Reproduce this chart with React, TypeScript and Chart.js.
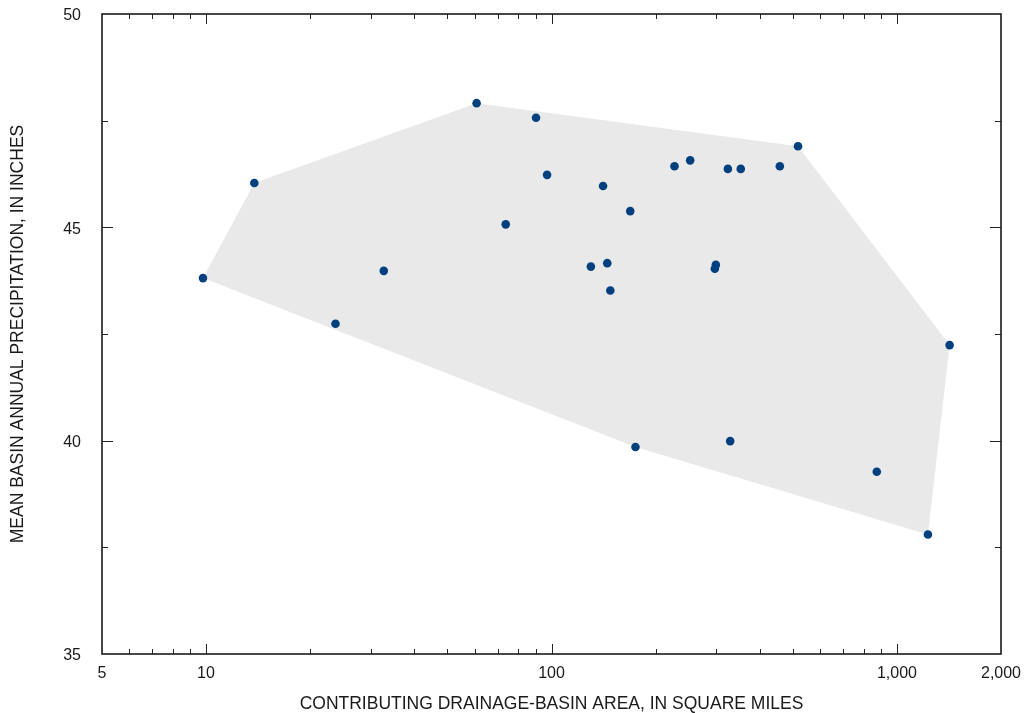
import React, { useEffect, useRef } from 'react';
import { Chart, registerables } from 'chart.js';

Chart.register(...registerables);

// Contributing drainage-basin area (square miles) and mean basin annual precipitation (inches)
const areaSqMi = [9.8, 13.8, 23.7, 32.7, 60.7, 90.2, 97.1, 73.7, 141, 169, 130, 145, 148, 227, 252, 324, 353, 458, 517, 299, 297, 175, 329, 1420, 874, 1229];
const precipIn = [43.81, 46.04, 42.74, 43.98, 47.91, 47.57, 46.23, 45.07, 45.97, 45.38, 44.08, 44.16, 43.52, 46.43, 46.57, 46.37, 46.37, 46.43, 46.9, 44.12, 44.03, 39.85, 39.99, 42.24, 39.27, 37.8];

// Envelope (convex hull) of the data
const hullArea = [9.8, 13.8, 60.7, 517, 1420, 1229, 175, 9.8];
const hullPrecip = [43.81, 46.04, 47.91, 46.9, 42.24, 37.8, 39.85, 43.81];

const xLabelTicks = [5, 10, 100, 1000, 2000];
const xMajorMarks = [10, 100, 1000];
const xMinorMarks = [6, 7, 8, 9, 20, 30, 40, 50, 60, 70, 80, 90, 200, 300, 400, 500, 600, 700, 800, 900];
const yLabelTicks = [35, 40, 45, 50];
const yMajorMarks = [40, 45];
const yMinorMarks = [37.5, 42.5, 47.5];

const xTitle = 'CONTRIBUTING DRAINAGE-BASIN AREA, IN SQUARE MILES';
const yTitle = 'MEAN BASIN ANNUAL PRECIPITATION, IN INCHES';

const FONT = "'Liberation Sans', Arial, Helvetica, sans-serif";
const TEXT_COLOR = '#1a1a1a';

const frameTicksPlugin = {
  id: 'frameTicks',
  afterDatasetsDraw(chart: any) {
    const { ctx, chartArea } = chart;
    const { left, right, top, bottom } = chartArea;
    const xs = chart.scales.x;
    const ys = chart.scales.y;
    ctx.save();
    ctx.strokeStyle = '#222';
    ctx.lineWidth = 1;
    ctx.beginPath();
    const vMark = (v: number, len: number) => {
      const px = Math.round(xs.getPixelForValue(v)) + 0.5;
      ctx.moveTo(px, bottom);
      ctx.lineTo(px, bottom - len);
      ctx.moveTo(px, top);
      ctx.lineTo(px, top + len);
    };
    const hMark = (v: number, len: number) => {
      const py = Math.round(ys.getPixelForValue(v)) + 0.5;
      ctx.moveTo(left, py);
      ctx.lineTo(left + len, py);
      ctx.moveTo(right, py);
      ctx.lineTo(right - len, py);
    };
    xMajorMarks.forEach((v) => vMark(v, 10));
    xMinorMarks.forEach((v) => vMark(v, 5));
    yMajorMarks.forEach((v) => hMark(v, 11));
    yMinorMarks.forEach((v) => hMark(v, 6));
    ctx.stroke();
    ctx.lineWidth = 1.6;
    ctx.strokeStyle = '#1a1a1a';
    ctx.strokeRect(left, top, right - left, bottom - top);
    ctx.restore();
  },
};

export default function App() {
  const canvasRef = useRef<HTMLCanvasElement | null>(null);

  useEffect(() => {
    if (!canvasRef.current) return;
    const points = areaSqMi.map((a, i) => ({ x: a, y: precipIn[i] }));
    const hull = hullArea.map((a, i) => ({ x: a, y: hullPrecip[i] }));
    const chart = new Chart(canvasRef.current, {
      type: 'scatter',
      data: {
        datasets: [
          {
            label: 'Stations',
            data: points,
            backgroundColor: '#00407f',
            borderWidth: 0,
            pointRadius: 4.3,
            pointBorderWidth: 0,
            showLine: false,
          },
          {
            label: 'Envelope',
            data: hull,
            showLine: true,
            fill: 'shape',
            backgroundColor: '#e9e9e9',
            borderColor: 'rgba(0,0,0,0)',
            borderWidth: 0,
            pointRadius: 0,
            tension: 0,
          } as any,
        ],
      },
      options: {
        animation: false,
        responsive: true,
        maintainAspectRatio: false,
        layout: { padding: { top: 14, right: 25, left: 0, bottom: 0 } },
        plugins: {
          legend: { display: false },
          tooltip: { enabled: false },
        },
        scales: {
          x: {
            type: 'logarithmic',
            min: 5,
            max: 2000,
            afterBuildTicks: (s: any) => {
              s.ticks = xLabelTicks.map((v) => ({ value: v }));
            },
            afterFit: (s: any) => {
              s.height = 59;
            },
            ticks: {
              autoSkip: false,
              maxRotation: 0,
              padding: 0,
              color: TEXT_COLOR,
              font: { family: FONT, size: 16 },
              callback: (v: any) => Number(v).toLocaleString('en-US'),
            },
            grid: { display: false, drawTicks: true, tickLength: 10 },
            border: { display: false },
            title: {
              display: true,
              text: xTitle,
              color: TEXT_COLOR,
              font: { family: FONT, size: 17.5, lineHeight: 1 },
              padding: { top: 0, bottom: 0 },
            },
          },
          y: {
            type: 'linear',
            min: 35,
            max: 50,
            afterBuildTicks: (s: any) => {
              s.ticks = yLabelTicks.map((v) => ({ value: v }));
            },
            afterFit: (s: any) => {
              s.width = 102;
            },
            ticks: {
              padding: 0,
              labelOffset: 2,
              color: TEXT_COLOR,
              font: { family: FONT, size: 16 },
              callback: (v: any) => String(v),
            },
            grid: { display: false, drawTicks: true, tickLength: 21 },
            border: { display: false },
            title: {
              display: true,
              text: yTitle,
              color: TEXT_COLOR,
              font: { family: FONT, size: 17.5 },
              padding: { top: 8, bottom: 0 },
            },
          },
        },
      },
      plugins: [frameTicksPlugin],
    });
    return () => chart.destroy();
  }, []);

  return (
    <div style={{ position: 'fixed', left: 0, top: 0, width: 1026, height: 713, background: '#fff' }}>
      <canvas ref={canvasRef} />
    </div>
  );
}
